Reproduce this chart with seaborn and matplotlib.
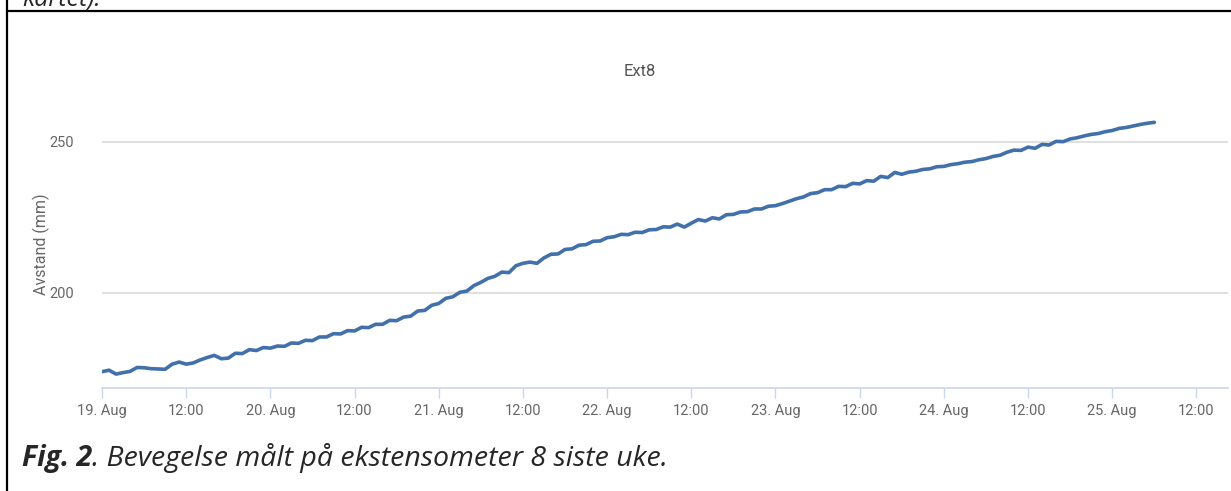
import pandas as pd
import matplotlib
matplotlib.use("Agg")
import matplotlib.pyplot as plt
import matplotlib.dates as mdates
from matplotlib.lines import Line2D
import seaborn as sns

# hourly readings from 19 Aug 00:00, extensometer 8 (mm)
start_time = "2023-08-19 00:00"
avstand_mm = [
    173.9, 174.4, 173.1, 173.6, 174.0, 175.3, 175.2, 174.9, 174.8, 174.7, 176.4, 177.1,
    176.4, 176.8, 177.8, 178.6, 179.3, 178.2, 178.4, 180.0, 179.9, 181.2, 180.9, 181.9,
    181.7, 182.4, 182.3, 183.4, 183.3, 184.3, 184.2, 185.4, 185.4, 186.5, 186.4, 187.5,
    187.4, 188.6, 188.5, 189.6, 189.6, 190.9, 190.8, 192.0, 192.3, 194.0, 194.2, 195.9,
    196.5, 198.2, 198.7, 200.2, 200.6, 202.4, 203.5, 204.8, 205.5, 206.9, 206.7, 209.0,
    209.8, 210.2, 209.8, 211.6, 212.8, 212.9, 214.4, 214.6, 215.8, 216.0, 217.1, 217.2,
    218.3, 218.6, 219.4, 219.3, 220.1, 220.0, 220.9, 221.0, 221.9, 221.8, 222.8, 221.8,
    223.1, 224.3, 223.8, 224.9, 224.5, 225.9, 226.0, 226.8, 226.9, 227.8, 227.8, 228.7,
    228.9, 229.6, 230.4, 231.2, 231.8, 232.9, 233.2, 234.2, 234.2, 235.3, 235.2, 236.3,
    236.1, 237.2, 237.0, 238.6, 238.2, 239.9, 239.3, 240.0, 240.3, 240.9, 241.1, 241.8,
    241.9, 242.5, 242.8, 243.3, 243.5, 244.1, 244.5, 245.2, 245.6, 246.6, 247.3, 247.2,
    248.3, 247.9, 249.2, 249.0, 250.2, 250.1, 251.0, 251.4, 252.0, 252.5, 252.8, 253.4,
    253.8, 254.5, 254.8, 255.3, 255.8, 256.2, 256.5,
]
y_ticks = [200, 250]
chart_title = "Ext8"
y_label = "Avstand (mm)"
caption_bold = "Fig. 2"
caption_rest = ". Bevegelse målt på ekstensometer 8 siste uke."
caption_above = "kartet)."

df = pd.DataFrame({
    "tid": pd.date_range(start_time, periods=len(avstand_mm), freq="h"),
    "avstand": avstand_mm,
})

sns.set_theme(style="white")
plt.rcParams["font.family"] = ["Roboto", "DejaVu Sans"]
doc_font = ["Open Sans", "DejaVu Sans"]

W, H = 1231, 491
fig = plt.figure(figsize=(W / 100, H / 100), dpi=100)
ax = fig.add_axes([102 / W, 1 - 388 / H, (1228 - 102) / W, (388 - 100) / H])

sns.lineplot(data=df, x="tid", y="avstand", ax=ax, color="#4170aa", linewidth=2.6)

t0 = pd.Timestamp(start_time)
ax.set_xlim(t0, t0 + pd.Timedelta(hours=160.5))
ax.set_ylim(168.5, 263.9)
ax.set_yticks(y_ticks)
ax.yaxis.grid(True, color="#e0e0e0", linewidth=1.5)
ax.xaxis.grid(False)

ax.xaxis.set_major_locator(mdates.HourLocator(byhour=[0, 12]))
def fmt_date(x, pos):
    d = mdates.num2date(x)
    return f"{d.day}. Aug" if d.hour == 0 else "12:00"
ax.xaxis.set_major_formatter(plt.FuncFormatter(fmt_date))

for s in ["top", "right", "left"]:
    ax.spines[s].set_visible(False)
ax.spines["bottom"].set_color("#ccd6eb")
ax.spines["bottom"].set_linewidth(1.2)
ax.tick_params(axis="x", bottom=True, length=7.5, width=1, color="#ccd6eb",
               pad=4, labelsize=10.5, labelcolor="#666666")
ax.tick_params(axis="y", left=False, pad=14, labelsize=10.5, labelcolor="#666666")

ax.set_xlabel("")
ax.set_ylabel(y_label, fontsize=11.5, color="#666666")
ax.yaxis.set_label_coords((50 - 102) / (1228 - 102), 0.5)

fig.text(640 / W, 1 - 72 / H, chart_title, fontsize=12, color="#555555",
         ha="center", va="center")

# document frame around the figure
fig.add_artist(Line2D([7 / W, 1], [1 - 11 / H, 1 - 11 / H], color="black", linewidth=1.6))
fig.add_artist(Line2D([7 / W, 7 / W], [0, 1], color="black", linewidth=1.6))

fig.text(22 / W, 1 - 5 / H, caption_above, fontsize=18, style="italic",
         family=doc_font, va="baseline")
t1 = fig.text(22 / W, 1 - 466 / H, caption_bold, fontsize=20.5, style="italic",
              weight="bold", family=doc_font, va="baseline")
ax.annotate(caption_rest, xy=(1, 0), xycoords=t1, va="bottom", ha="left",
            fontsize=20.5, style="italic", family=doc_font)

fig.savefig("out.png", dpi=100)
